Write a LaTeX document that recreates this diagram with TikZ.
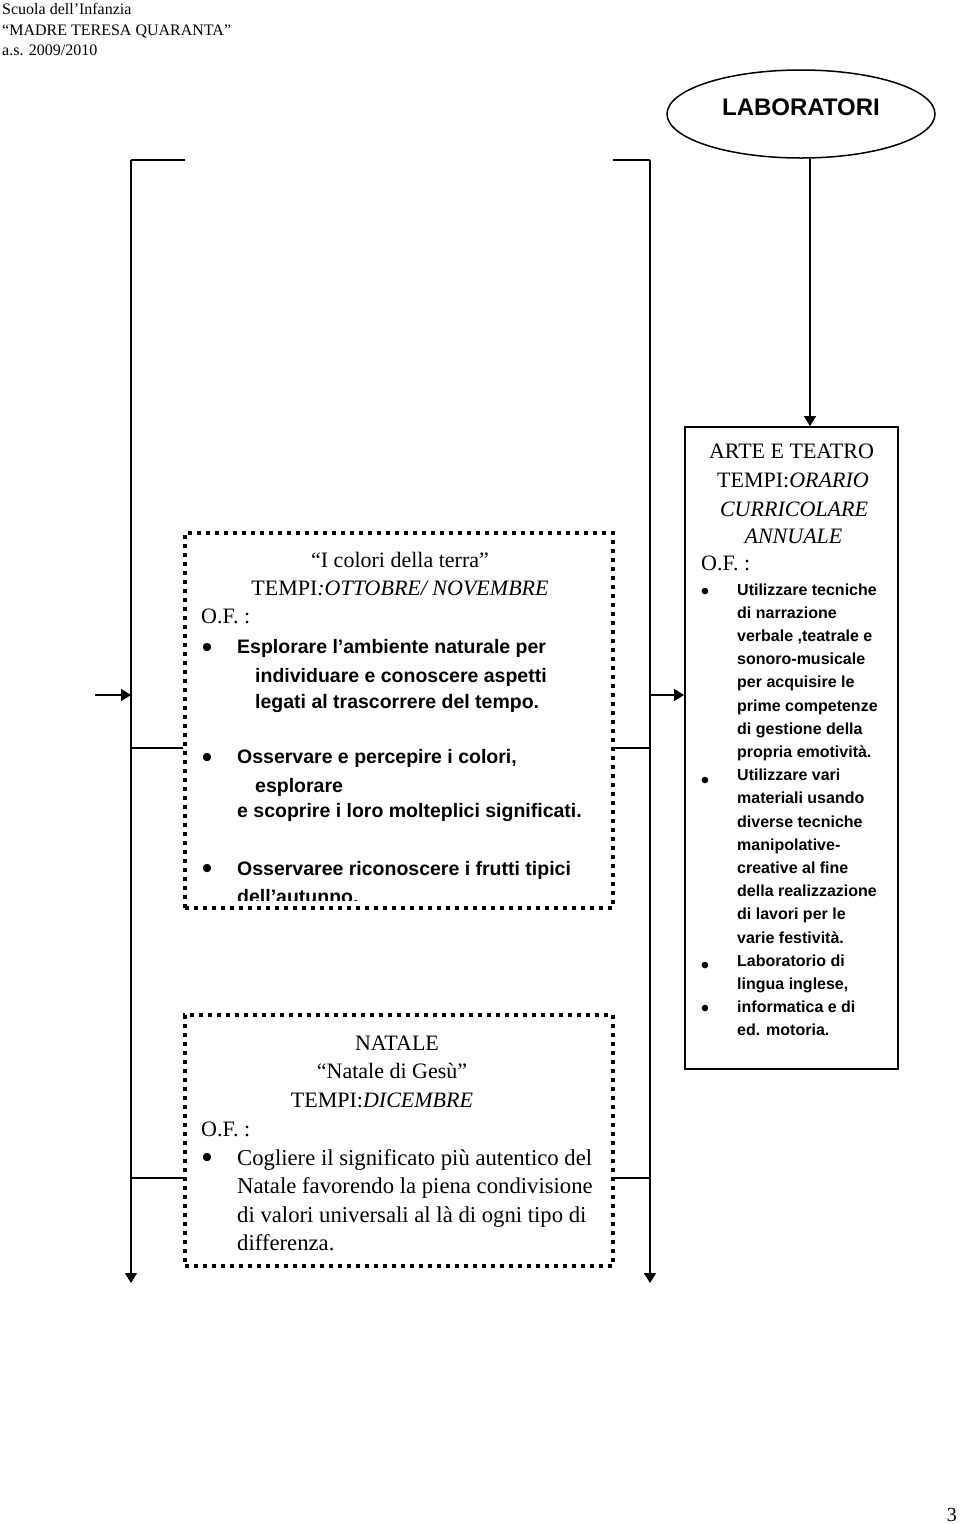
\documentclass[tikz,border=0pt]{standalone}
\usepackage{fontspec}
\setmainfont{Liberation Serif}
\setsansfont{Liberation Sans}
\usetikzlibrary{shapes.geometric,arrows.meta}

\tikzset{
  wire/.style={line width=1.4pt},
  arr/.style={wire, -{Triangle[length=10pt,width=12pt]}},
  dotbox/.style={draw, line width=4pt, dash pattern=on 4pt off 5pt, inner sep=0pt},
  framebox/.style={draw, line width=1.8pt, inner sep=0pt},
  txt/.style={inner sep=0pt, anchor=base west},
  mid/.style={inner sep=0pt, anchor=base},
  hd/.style={font=\fontsize{16}{20}\selectfont},
  ser/.style={font=\fontsize{22}{28}\selectfont},
  serbig/.style={font=\fontsize{22.7}{28}\selectfont},
  sansbig/.style={font=\fontsize{19.5}{26}\selectfont\sffamily\bfseries},
  sanssm/.style={font=\fontsize{16}{20}\selectfont\sffamily\bfseries},
  dotbig/.style={mid, font=\fontsize{30}{30}\selectfont\sffamily},
  dotsm/.style={mid, font=\fontsize{24}{24}\selectfont\sffamily},
}

\begin{document}
\begin{tikzpicture}[x=1pt, y=-1pt]

  \useasboundingbox (0,0) rectangle (960,1524);

  % header
  \node[txt, hd] (hd1) at (2,14) {Scuola dell’Infanzia};
  \node[txt, hd] (hd2) at (2,35) {“MADRE TERESA QUARANTA”};
  \node[txt, hd] (hd3) at (2,55) {a.s. 2009/2010};

  \node[ellipse, draw, line width=1.5pt, minimum width=268pt, minimum height=88pt,
    text depth=14pt, font=\fontsize{24}{28}\selectfont\sffamily\bfseries]
    (lab) at (801,114) {LABORATORI};

  % boxes
  \node[dotbox, minimum width=428pt, minimum height=375pt] (colori) at (399,720.5) {};
  \node[dotbox, minimum width=428pt, minimum height=251pt] (natale) at (399,1140.5) {};
  \node[framebox, minimum width=213pt, minimum height=642pt] (arte) at (791.5,748) {};

  % bracket lines
  \coordinate (tl) at (185,160);
  \coordinate (lt) at (131,160);
  \coordinate (lb) at (131,1283);
  \coordinate (tr) at (613,160);
  \coordinate (rt) at (650,160);
  \coordinate (rb) at (650,1283);
  \coordinate (in) at (95,695);
  \coordinate (lm) at (131,695);
  \coordinate (rm) at (650,695);
  \coordinate (k1) at (131,748);
  \coordinate (k2) at (131,1178);

  \draw[wire] (tl) -- (lt);
  \draw[arr] (lt) -- (lb);
  \draw[wire] (tr) -- (rt);
  \draw[arr] (rt) -- (rb);
  \draw[arr] (in) -- (lm);
  \draw[arr] (rm) -- (rm -| arte.west);

  \draw[wire] (k1) -- (k1 -| colori.west);
  \draw[wire] (k1 -| colori.east) -- (k1 -| rt);
  \draw[wire] (k2) -- (k2 -| natale.west);
  \draw[wire] (k2 -| natale.east) -- (k2 -| rt);

  \draw[arr] ([xshift=9pt]lab.south) -- ([xshift=9pt]lab.south |- arte.north);

  % I colori della terra
  \node[mid, ser] (c1) at (400,567) {“I colori della terra”};
  \node[mid, ser] (c2) at (400,595) {TEMPI\textit{:OTTOBRE/ NOVEMBRE}};
  \node[txt, ser] (c3) at (201,623) {O.F. :};
  \node[dotbig] (cb1) at (207,657) {•};
  \node[txt, sansbig] (c4) at (237,653) {Esplorare l’ambiente naturale per};
  \node[txt, sansbig] (c5) at (255,682) {individuare e conoscere aspetti};
  \node[txt, sansbig] (c6) at (255,708) {legati al trascorrere del tempo.};
  \node[dotbig] (cb2) at (207,767) {•};
  \node[txt, sansbig] (c7) at (237,763) {Osservare e percepire i colori,};
  \node[txt, sansbig] (c8) at (255,792) {esplorare};
  \node[txt, sansbig] (c9) at (237,817) {e scoprire i loro molteplici significati.};
  \node[dotbig] (cb3) at (207,878) {•};
  \node[txt, sansbig] (c10) at (237,875) {Osservaree riconoscere i frutti tipici};
  \begin{scope}
    \clip (185,533) rectangle (613,900);
    \node[txt, sansbig] (c11) at (237,903) {dell’autunno.};
  \end{scope}

  % Natale
  \node[mid, ser] (n1) at (397,1050) {NATALE};
  \node[mid, ser] (n2) at (392,1078) {“Natale di Gesù”};
  \node[mid, ser] (n3) at (382,1107) {TEMPI:\textit{DICEMBRE}};
  \node[txt, ser] (n4) at (201,1136) {O.F. :};
  \node[dotbig] (nb1) at (207,1167) {•};
  \node[txt, serbig] (n5) at (237,1165) {Cogliere il significato più autentico del};
  \node[txt, serbig] (n6) at (237,1193) {Natale favorendo la piena condivisione};
  \node[txt, serbig] (n7) at (237,1222) {di valori universali al là di ogni tipo di};
  \node[txt, serbig] (n8) at (237,1250) {differenza.};

  % Arte e teatro
  \node[mid, ser] (a1) at (791.5,458) {ARTE E TEATRO};
  \node[mid, ser] (a2) at (793,487) {TEMPI:\textit{ORARIO}};
  \node[mid, ser] (a3) at (794,516) {\textit{CURRICOLARE}};
  \node[mid, ser] (a4) at (793.5,543) {\textit{ANNUALE}};
  \node[txt, ser] (a5) at (701,570) {O.F. :};
  \node[dotsm] (ab1) at (705,599) {•};
  \node[txt, sanssm] (a6) at (737,595) {Utilizzare tecniche};
  \node[txt, sanssm] (a7) at (737,618.2) {di narrazione};
  \node[txt, sanssm] (a8) at (737,641.4) {verbale ,teatrale e};
  \node[txt, sanssm] (a9) at (737,664.6) {sonoro-musicale};
  \node[txt, sanssm] (a10) at (737,687.8) {per acquisire le};
  \node[txt, sanssm] (a11) at (737,711) {prime competenze};
  \node[txt, sanssm] (a12) at (737,734.2) {di gestione della};
  \node[txt, sanssm] (a13) at (737,757.4) {propria emotività.};
  \node[dotsm] (ab2) at (705,788) {•};
  \node[txt, sanssm] (a14) at (737,780.6) {Utilizzare vari};
  \node[txt, sanssm] (a15) at (737,803.8) {materiali usando};
  \node[txt, sanssm] (a16) at (737,827) {diverse tecniche};
  \node[txt, sanssm] (a17) at (737,850.2) {manipolative-};
  \node[txt, sanssm] (a18) at (737,873.4) {creative al fine};
  \node[txt, sanssm] (a19) at (737,896.6) {della realizzazione};
  \node[txt, sanssm] (a20) at (737,919.8) {di lavori per le};
  \node[txt, sanssm] (a21) at (737,943) {varie festività.};
  \node[dotsm] (ab3) at (705,973) {•};
  \node[txt, sanssm] (a22) at (737,966.2) {Laboratorio di};
  \node[txt, sanssm] (a23) at (737,989.4) {lingua inglese,};
  \node[dotsm] (ab4) at (705,1016) {•};
  \node[txt, sanssm] (a24) at (737,1012.6) {informatica e di};
  \node[txt, sanssm] (a25) at (737,1035.8) {ed. motoria.};

  % page number
  \node[anchor=base east, inner sep=0pt, font=\fontsize{20}{24}\selectfont] (pg) at (957,1521) {3};

\end{tikzpicture}
\end{document}
